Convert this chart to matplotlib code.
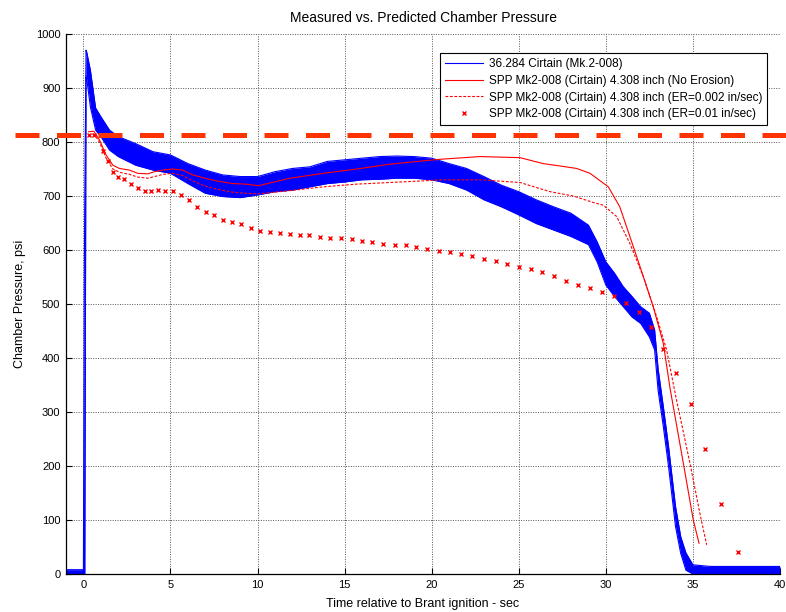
import matplotlib
matplotlib.use('Agg')
from matplotlib import pyplot as plt
import numpy as np

plt.rcParams['font.family'] = ['Liberation Sans', 'DejaVu Sans']
plt.rcParams['font.size'] = 8

# measured trace (Cirtain 36.284) as the envelope of the pressure ripple
t_meas = [-1.0, -0.5, 0.0, 0.05, 0.08, 0.15, 0.2, 0.4, 0.7, 1.0, 1.5, 2.0, 3.0, 4.0, 5.0,
          6.0, 7.0, 8.0, 9.0, 10.0, 11.0, 12.0, 13.0, 14.0, 15.0, 16.0, 17.0, 18.0,
          19.0, 20.0, 21.0, 22.0, 23.0, 24.0, 25.0, 26.0, 27.0, 28.0, 29.0, 29.5,
          30.0, 30.5, 31.0, 31.5, 32.0, 32.5, 32.8, 33.0, 33.3, 33.6, 34.0, 34.3,
          34.6, 35.0, 36.0, 37.0, 38.0, 39.0, 40.0]
p_meas_hi = [8, 8, 8, 550, 700, 970, 965, 933, 863, 847, 822, 810, 797, 782, 776,
             760, 748, 739, 736, 736, 745, 751, 754, 764, 767, 770, 773, 774,
             773, 770, 760, 751, 736, 720, 708, 693, 680, 668, 646, 615,
             578, 557, 532, 514, 495, 483, 452, 380, 310, 236, 125, 69,
             39, 17, 14, 14, 14, 14, 14]
p_meas_lo = [0, 0, 0, 0, 0, 921, 915, 865, 822, 810, 785, 773, 757, 748, 742,
             723, 705, 699, 697, 702, 708, 711, 717, 723, 726, 730, 731, 733,
             733, 730, 723, 711, 693, 680, 665, 649, 637, 625, 610, 578,
             535, 514, 495, 476, 464, 439, 415, 340, 273, 199, 88, 38,
             7, 0, 0, 0, 0, 0, 0]

# SPP prediction, no erosion
t_noer = [0.3, 0.6, 0.92, 1.3, 1.69, 2.07, 2.64, 3.12, 3.7, 4.08, 4.56, 5.13, 5.7,
          6.28, 6.85, 7.62, 8.57, 9.34, 10.05, 11.87, 13.78, 15.7, 17.6, 19.5,
          20.5, 22.77, 25.07, 26.4, 27.5, 28.32, 29.09, 29.47, 30.14, 30.8, 31.58,
          32.15, 32.72, 33.3, 33.68, 34.45, 35.02, 35.35]
p_noer = [819, 820, 804, 776, 757, 751, 748, 742, 741, 745, 748, 750, 748,
          739, 734, 728, 723, 722, 719, 733, 742, 750, 759, 765,
          768, 773, 771, 760, 755, 751, 742, 733, 717, 680, 606,
          551, 495, 427, 345, 205, 100, 57]

# SPP prediction, ER = 0.002 in/sec
t_er2 = [0.3, 0.6, 0.92, 1.3, 1.69, 2.07, 2.64, 3.12, 3.7, 4.08, 4.56, 5.13, 5.7,
         6.28, 6.85, 7.62, 8.57, 9.34, 10.05, 11.87, 13.78, 15.7, 17.6, 19.5,
         20.5, 22.77, 25.07, 26.8, 28.13, 29.28, 29.85, 30.62, 31.38, 32.15,
         32.92, 33.49, 34.02, 34.83, 35.4, 35.79]
p_er2 = [813, 815, 800, 770, 750, 744, 740, 735, 733, 736, 740, 742, 738,
         728, 720, 713, 707, 705, 704, 710, 717, 722, 725, 728,
         730, 730, 725, 708, 700, 688, 683, 662, 612, 551,
         476, 415, 328, 205, 112, 54]

# SPP prediction, ER = 0.01 in/sec
t_er10 = [0.33, 0.62, 1.15, 1.44, 1.7, 1.97, 2.35, 2.76, 3.16, 3.54, 3.9, 4.3, 4.7,
          5.17, 5.6, 6.07, 6.53, 7.04, 7.5, 8.04, 8.54, 9.05, 9.63, 10.14, 10.72,
          11.29, 11.86, 12.44, 12.98, 13.59, 14.18, 14.8, 15.4, 15.98, 16.6, 17.22,
          17.9, 18.5, 19.1, 19.73, 20.4, 21.03, 21.7, 22.33, 23.0, 23.67, 24.34,
          25.0, 25.68, 26.35, 27.0, 27.7, 28.38, 29.09, 29.78, 30.48, 31.17, 31.88,
          32.6, 33.3, 34.02, 34.9, 35.69, 36.62, 37.57]
p_er10 = [813, 813, 784, 765, 745, 736, 731, 723, 714, 710, 710, 712, 710,
          709, 702, 692, 680, 670, 664, 656, 651, 648, 641, 636, 634,
          632, 630, 628, 627, 625, 623, 622, 620, 616, 614, 612,
          610, 609, 605, 601, 598, 596, 592, 588, 583, 579, 575,
          569, 565, 560, 552, 543, 535, 529, 522, 515, 502, 485,
          457, 417, 373, 315, 231, 130, 41]

p_limit = 813

fig = plt.figure(figsize=(7.86, 6.12), dpi=100)
ax = fig.add_axes([66 / 786, 38 / 612, 714 / 786, 540 / 612])

ax.fill_between(t_meas, p_meas_lo, p_meas_hi, color='#0000ff', linewidth=0)
ax.plot(t_meas, p_meas_hi, color='#0000ff', linewidth=0.8,
        label='36.284 Cirtain (Mk.2-008)')
ax.plot(t_meas, p_meas_lo, color='#0000ff', linewidth=0.8)
ax.plot(t_noer, p_noer, color='#ff0000', linewidth=0.8,
        label='SPP Mk2-008 (Cirtain) 4.308 inch (No Erosion)')
ax.plot(t_er2, p_er2, color='#ff0000', linewidth=0.8, dashes=(2.5, 1.5),
        label='SPP Mk2-008 (Cirtain) 4.308 inch (ER=0.002 in/sec)')
ax.plot(t_er10, p_er10, linestyle='none', marker='x', color='#ff0000',
        markersize=3.5, markeredgewidth=1.0,
        label='SPP Mk2-008 (Cirtain) 4.308 inch (ER=0.01 in/sec)')

ax.axhline(p_limit, xmin=-0.0714, xmax=1.02, clip_on=False, color='#ff3300',
           linewidth=3.6, dashes=(4.8, 3.5), zorder=5)

ax.set_xlim(-1, 40)
ax.set_ylim(0, 1000)
ax.set_xticks(np.arange(0, 41, 5))
ax.set_yticks(np.arange(0, 1001, 100))
ax.tick_params(direction='in', length=4, width=0.8, labelsize=8, pad=4)
for side in ['top', 'right']:
    ax.spines[side].set_visible(False)
for side in ['left', 'bottom']:
    ax.spines[side].set_linewidth(0.9)
ax.grid(True, linestyle=(0, (1, 1.5)), color='#555555', linewidth=0.7)
ax.set_axisbelow(True)

ax.set_title('Measured vs. Predicted Chamber Pressure', fontsize=10, pad=9)
ax.set_xlabel('Time relative to Brant ignition - sec', fontsize=9)
ax.set_ylabel('Chamber Pressure, psi', fontsize=9)
ax.yaxis.set_label_coords(-0.056, 0.5)
ax.xaxis.set_label_coords(0.5, -0.045)

leg = ax.legend(loc='upper right', bbox_to_anchor=(0.99, 0.975), fancybox=False,
                framealpha=1, edgecolor='black', fontsize=8.5, handlelength=3.2,
                labelspacing=0.4, borderpad=0.4, handletextpad=0.5)
leg.get_frame().set_linewidth(0.8)

fig.savefig('out.png', dpi=100)
